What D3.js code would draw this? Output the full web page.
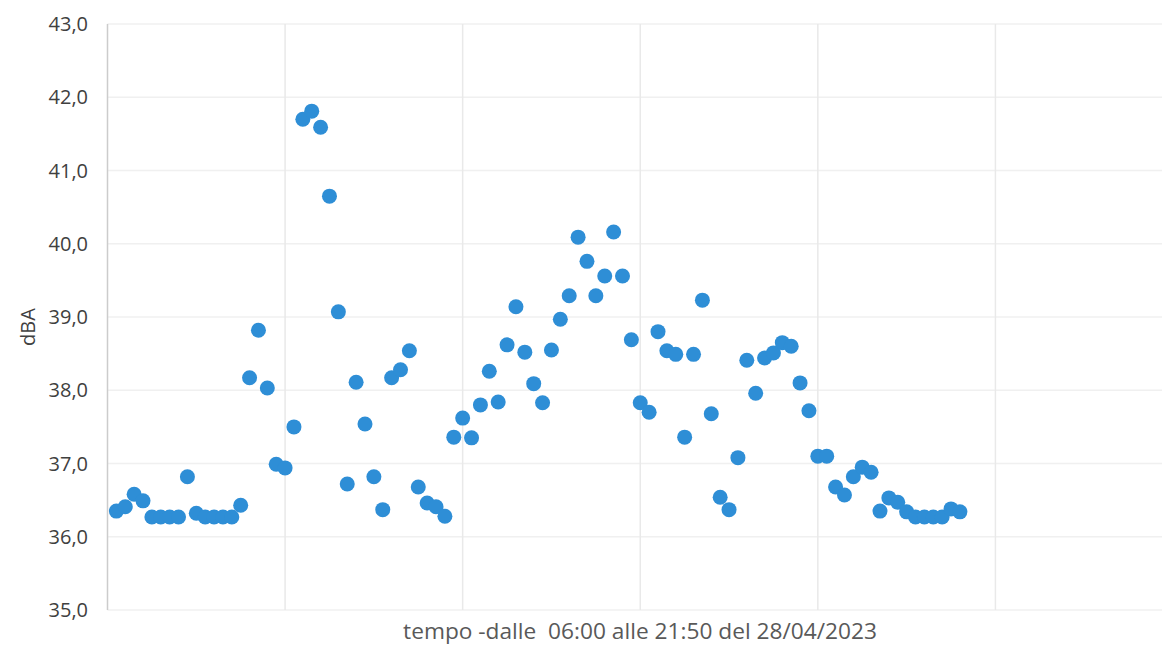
<!DOCTYPE html>
<html><head><meta charset="utf-8">
<script src="https://cdn.jsdelivr.net/npm/d3@7/dist/d3.min.js"></script>
<style>
html,body{margin:0;padding:0;background:#fff;}
svg{display:block;}
</style></head>
<body>
<svg id="chart" width="1162" height="645"></svg>
<script>
// Sound level readings (dBA), every 10 minutes from 06:00 to 21:50
const sampleIndex = d3.range(1, 97);
const dBA = [
  36.35, 36.41, 36.58, 36.49, 36.27, 36.27, 36.27, 36.27, 36.82, 36.32,
  36.27, 36.27, 36.27, 36.27, 36.43, 38.17, 38.82, 38.03, 36.99, 36.94,
  37.50, 41.70, 41.81, 41.59, 40.65, 39.07, 36.72, 38.11, 37.54, 36.82,
  36.37, 38.17, 38.28, 38.54, 36.68, 36.46, 36.41, 36.28, 37.36, 37.62,
  37.35, 37.80, 38.26, 37.84, 38.62, 39.14, 38.52, 38.09, 37.83, 38.55,
  38.97, 39.29, 40.09, 39.76, 39.29, 39.56, 40.16, 39.56, 38.69, 37.83,
  37.70, 38.80, 38.54, 38.49, 37.36, 38.49, 39.23, 37.68, 36.54, 36.37,
  37.08, 38.41, 37.96, 38.44, 38.51, 38.65, 38.60, 38.10, 37.72, 37.10,
  37.10, 36.68, 36.57, 36.82, 36.95, 36.88, 36.35, 36.53, 36.47, 36.34,
  36.27, 36.27, 36.27, 36.27, 36.38, 36.34
];
const yTicks = [35, 36, 37, 38, 39, 40, 41, 42, 43];
const xGrid = [0, 20, 40, 60, 80, 100, 120];
const xTitle = "tempo -dalle  06:00 alle 21:50 del 28/04/2023";
const yTitle = "dBA";

const svg = d3.select("#chart");
const x = d3.scaleLinear().domain([0, 120]).range([107.5, 1173]);
const y = d3.scaleLinear().domain([35, 43]).range([610, 24]);

// horizontal gridlines
svg.append("g").selectAll("line").data(yTicks).join("line")
  .attr("x1", x(0)).attr("x2", x(120))
  .attr("y1", d => y(d)).attr("y2", d => y(d))
  .attr("stroke", "#f0f0f0").attr("stroke-width", 1.5);

// vertical gridlines
svg.append("g").selectAll("line").data(xGrid.slice(1)).join("line")
  .attr("x1", d => x(d)).attr("x2", d => x(d))
  .attr("y1", y(43)).attr("y2", y(35))
  .attr("stroke", "#e9e9e9").attr("stroke-width", 1.5);

// left axis line
svg.append("line")
  .attr("x1", x(0)).attr("x2", x(0))
  .attr("y1", y(43)).attr("y2", y(35))
  .attr("stroke", "#cccccc").attr("stroke-width", 1.5);

// y tick labels
const fmt = d => d3.format(".1f")(d).replace(".", ",");
svg.append("g").selectAll("text").data(yTicks).join("text")
  .attr("x", 88).attr("y", d => y(d))
  .attr("dy", "0.35em")
  .attr("text-anchor", "end")
  .attr("font-family", "Open Sans, sans-serif")
  .attr("font-size", 20)
  .attr("fill", "#404040")
  .text(fmt);

// y title
svg.append("text")
  .attr("transform", `translate(35,${(y(43)+y(35))/2 + 10}) rotate(-90)`)
  .attr("text-anchor", "middle")
  .attr("font-family", "Open Sans, sans-serif")
  .attr("font-size", 20)
  .attr("fill", "#404040")
  .text(yTitle);

// x title
const xt = svg.append("text")
  .attr("x", 640).attr("y", 639)
  .attr("text-anchor", "middle")
  .attr("font-family", "Open Sans, sans-serif")
  .attr("font-size", 19)
  .attr("fill", "#595959")
  .attr("xml:space", "preserve")
  .style("white-space", "pre")
  .text(xTitle);
const w = xt.node().getComputedTextLength();
xt.attr("font-size", 19 * 474 / w);

// points
svg.append("g").selectAll("circle").data(dBA).join("circle")
  .attr("cx", (d, i) => x(sampleIndex[i]))
  .attr("cy", d => y(d))
  .attr("r", 7.5)
  .attr("fill", "#2e8ed6");
</script>
</body></html>
